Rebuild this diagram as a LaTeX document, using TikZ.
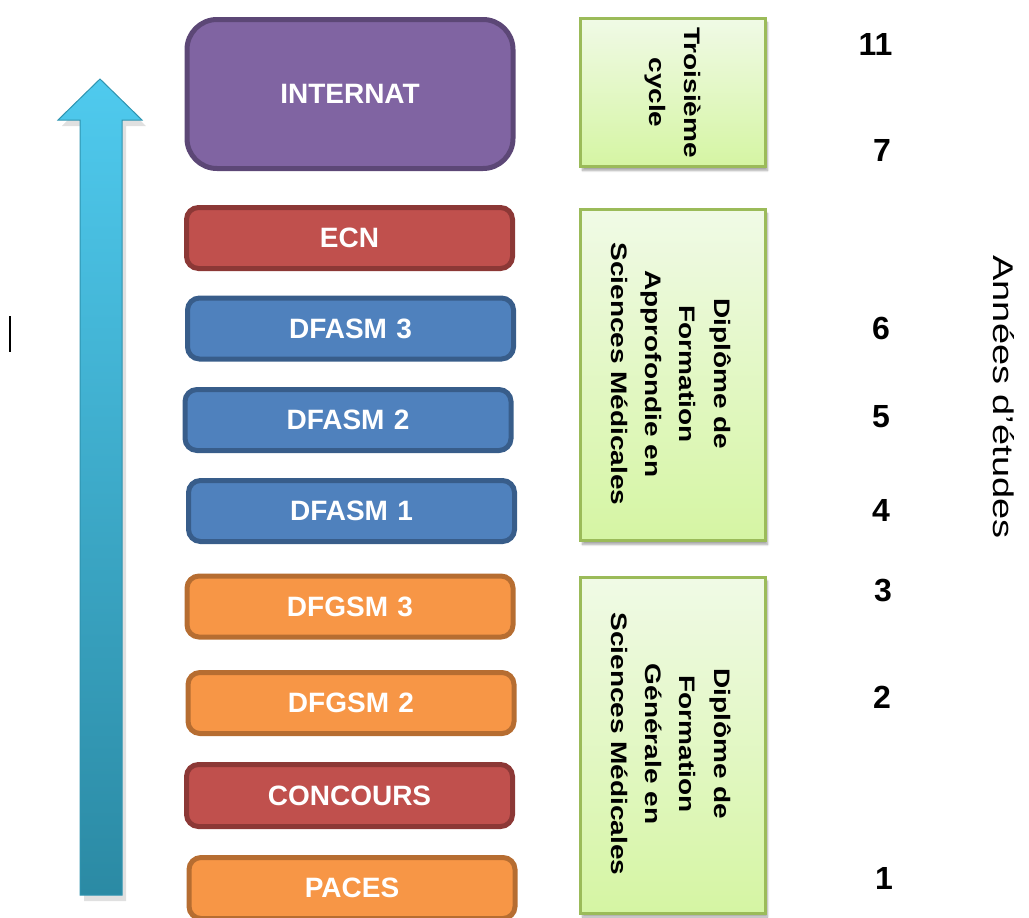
\documentclass[tikz,border=0pt]{standalone}
\usepackage{fontspec}
\setmainfont{Liberation Sans}
\usetikzlibrary{shadows.blur}
\definecolor{purpleF}{HTML}{8064A2}
\definecolor{purpleD}{HTML}{5C4776}
\definecolor{redF}{HTML}{C0504D}
\definecolor{redD}{HTML}{8C3836}
\definecolor{blueF}{HTML}{4F81BD}
\definecolor{blueD}{HTML}{385D8A}
\definecolor{orangeF}{HTML}{F79646}
\definecolor{orangeD}{HTML}{B66D31}
\definecolor{greenTop}{HTML}{F0FAE6}
\definecolor{greenBot}{HTML}{D5F5A3}
\definecolor{greenD}{HTML}{9BBB59}
\definecolor{arrowTop}{HTML}{4FCAEE}
\definecolor{arrowBot}{HTML}{2B8AA4}
\definecolor{arrowEdge}{HTML}{2F94B0}
\begin{document}
\begin{tikzpicture}[x=1pt,y=-1pt,
  stage/.style={draw, line width=5pt, rounded corners=12pt, inner sep=0pt,
    minimum width=326pt, minimum height=61pt, text=white,
    font=\bfseries\fontsize{28}{32}\selectfont},
  purplestage/.style={stage, fill=purpleF, draw=purpleD, rounded corners=30pt},
  redstage/.style={stage, fill=redF, draw=redD},
  bluestage/.style={stage, fill=blueF, draw=blueD},
  orangestage/.style={stage, fill=orangeF, draw=orangeD},
  cyclebox/.style={draw=greenD, line width=3pt, top color=greenTop, bottom color=greenBot,
    minimum width=185pt, inner sep=0pt,
    blur shadow={shadow xshift=2pt, shadow yshift=-4pt, shadow blur steps=6, shadow opacity=35}},
  cycletext/.style={rotate=-90, yscale=0.8, align=center, inner sep=0pt,
    font=\bfseries\fontsize{28}{43}\selectfont},
  year/.style={font=\bfseries\fontsize{32}{34}\selectfont, inner sep=0pt},
]
\useasboundingbox (0,0) rectangle (1029,918);

% arrow
\fill[black, opacity=0.12] (103,84) -- (146,126) -- (126,126) -- (126,901) -- (84,901) -- (84,126) -- (62,126) -- cycle;
\draw[arrowEdge, line width=1pt, top color=arrowTop, bottom color=arrowBot]
  (100,79) -- (142,120) -- (122,120) -- (122,895) -- (80,895) -- (80,120) -- (58,120) -- cycle;

% small mark
\coordinate (markA) at (10,316);
\coordinate (markB) at (10,352);
\draw[line width=1.4pt, black] (markA) -- (markB);

% stages
\node[purplestage, minimum height=149pt] (internat) at (350,94) {INTERNAT};
\node[redstage] (ecn) at (349.5,238) {ECN};
\node[bluestage] (dfasm3) at (350.5,328.5) {DFASM\,\,3};
\node[bluestage] (dfasm2) at (348,420) {DFASM\,\,2};
\node[bluestage] (dfasm1) at (351.5,511) {DFASM\,\,1};
\node[orangestage] (dfgsm3) at (350,606.5) {DFGSM\,\,3};
\node[orangestage] (dfgsm2) at (351,703) {DFGSM\,\,2};
\node[redstage, minimum height=62pt] (concours) at (349.5,795.5) {CONCOURS};
\node[orangestage] (paces) at (352,888) {PACES};

% cycle boxes
\node[cyclebox, minimum height=148pt] (c3) at (673,92.5) {};
\node[cycletext] (c3t) at (c3) {Troisième\\cycle};
\node[cyclebox, minimum height=331pt] (c2) at (673,375) {};
\node[cycletext] (c2t) at (671,374) {Diplôme de\\Formation\\Approfondie en\\Sciences Médicales};
\node[cyclebox, minimum height=336pt] (c1) at (673,745) {};
\node[cycletext] (c1t) at (671,744) {Diplôme de\\Formation\\Générale en\\Sciences Médicales};

% years
\node[year] (y11) at (875.5,44.5) {11};
\node[year] (y7) at (882,150.5) {7};
\node[year] (y6) at (881,328) {6};
\node[year] (y5) at (881,417) {5};
\node[year] (y4) at (881,510) {4};
\node[year] (y3) at (883,590.5) {3};
\node[year] (y2) at (882,697.5) {2};
\node[year] (y1) at (884,878) {1};

\node[rotate=-90, yscale=0.75, inner sep=0pt, font=\fontsize{38}{40}\selectfont] (annees) at (1004,397) {Années d’études};
\end{tikzpicture}
\end{document}
